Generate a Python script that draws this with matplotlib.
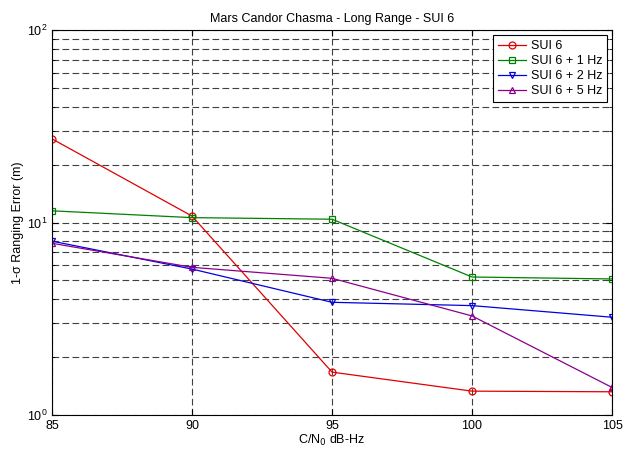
import matplotlib
matplotlib.use("Agg")
import matplotlib.pyplot as plt
import matplotlib.ticker as ticker

plt.rcParams['font.family'] = ['Liberation Sans', 'DejaVu Sans']

# Data
cn0 = [85, 90, 95, 100, 105]
sui6 = [27.2, 10.8, 1.67, 1.33, 1.32]
sui6_1hz = [11.5, 10.6, 10.4, 5.21, 5.09]
sui6_2hz = [8.0, 5.73, 3.85, 3.70, 3.22]
sui6_5hz = [7.8, 5.85, 5.13, 3.27, 1.39]

series = [
    ("SUI 6", sui6, "#e00000", "o"),
    ("SUI 6 + 1 Hz", sui6_1hz, "#008000", "s"),
    ("SUI 6 + 2 Hz", sui6_2hz, "#0000e0", "v"),
    ("SUI 6 + 5 Hz", sui6_5hz, "#8b008b", "^"),
]

fig = plt.figure(figsize=(6.31, 4.5), dpi=100)
ax = fig.add_axes([0.0824, 0.0778, 0.8876, 0.8555])

for label, vals, color, marker in series:
    ax.plot(cn0, vals, color=color, marker=marker, markersize=5,
            markerfacecolor='none', markeredgewidth=0.9, linewidth=0.9,
            label=label)

ax.set_yscale('log')
ax.set_xlim(85, 105)
ax.set_ylim(1, 100)
ax.set_xticks([85, 90, 95, 100, 105])
ax.yaxis.set_major_locator(ticker.LogLocator(base=10))
ax.yaxis.set_minor_locator(ticker.LogLocator(base=10, subs=range(2, 10)))
ax.yaxis.set_minor_formatter(ticker.NullFormatter())

dash = (0, (6, 3))
ax.grid(True, which='major', axis='both', color='0.25', linestyle=dash, linewidth=0.8)
ax.grid(True, which='minor', axis='y', color='0.25', linestyle=dash, linewidth=0.8)

ax.tick_params(which='both', direction='in', labelsize=9, top=True, right=True)
ax.tick_params(which='major', length=4)
ax.tick_params(which='minor', length=2)
for s in ax.spines.values():
    s.set_linewidth(0.8)

ax.set_title("Mars Candor Chasma - Long Range - SUI 6", fontsize=9, pad=6)
ax.set_xlabel("C/N$_0$ dB-Hz", fontsize=9, labelpad=1)
ax.set_ylabel("1-σ Ranging Error (m)", fontsize=9, labelpad=2)

leg = ax.legend(loc='upper right', fontsize=9, fancybox=False, framealpha=1,
                edgecolor='black', borderaxespad=0.4, handlelength=2.2,
                labelspacing=0.25, borderpad=0.4, handletextpad=0.4)
leg.get_frame().set_linewidth(0.8)

fig.savefig("out.png", dpi=100)
